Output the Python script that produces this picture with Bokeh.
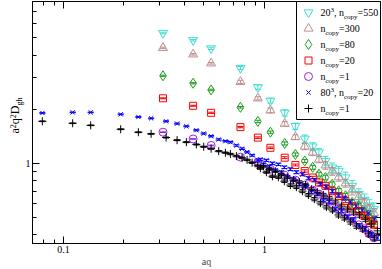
import math
from bokeh.plotting import figure
from bokeh.models import (ColumnDataSource, Range1d, LogAxis, FixedTicker, Whisker, TeeHead,
                          CustomJSTickFormatter)
from bokeh.core.properties import value
from bokeh.embed import file_html
from bokeh.resources import INLINE

# ---------------- data ----------------
# 20^3 lattice momenta
aq_20 = [0.313, 0.442, 0.543, 0.760, 0.928, 1.071, 1.262, 1.426, 1.587, 1.739,
         1.868, 2.012, 2.173, 2.343, 2.530, 2.731, 2.946, 3.145, 3.329, 3.506]
d_20_n550 = [5.31, 4.84, 4.36, 3.39, 2.65, 2.23, 1.91, 1.61, 1.37, 1.24,
             1.15, 1.03, 0.947, 0.907, 0.834, 0.749, 0.674, 0.625, 0.581, 0.557]
d_20_n300 = [4.39, 4.04, 3.60, 2.84, 2.30, 1.97, 1.66, 1.40, 1.24, 1.15,
             1.05, 0.975, 0.903, 0.837, 0.775, 0.709, 0.649, 0.601, 0.557, 0.529]
d_20_n80 = [3.07, 2.79, 2.56, 2.05, 1.71, 1.49, 1.29, 1.12, 1.03, 0.950,
            0.870, 0.834, 0.765, 0.703, 0.660, 0.607, 0.581, 0.536, 0.503, 0.478]
d_20_n20 = [2.30, 2.09, 1.91, 1.59, 1.39, 1.22, 1.075, 0.979, 0.907, 0.834,
            0.782, 0.749, 0.700, 0.657, 0.617, 0.578, 0.543, 0.510, 0.478, 0.455]
d_20_n1 = [1.49, 1.366, 1.257, 1.083, 1.013, 0.927, 0.858, 0.806, 0.756, 0.709,
           0.674, 0.633, 0.594, 0.557, 0.523, 0.491, 0.455, 0.432, 0.405, 0.385]
e_20_n550 = [0.01, 0.01, 0.015, 0.02, 0.03, 0.03, 0.04, 0.04, 0.05, 0.05,
             0.05, 0.06, 0.06, 0.06, 0.07, 0.07, 0.07, 0.08, 0.08, 0.08]
e_20_n300 = [0.01, 0.01, 0.01, 0.02, 0.02, 0.03, 0.03, 0.03, 0.04, 0.04,
             0.04, 0.05, 0.05, 0.05, 0.05, 0.06, 0.06, 0.06, 0.06, 0.06]
e_20_n80 = [0.008, 0.008, 0.01, 0.01, 0.015, 0.015, 0.02, 0.02, 0.02, 0.025,
            0.025, 0.03, 0.03, 0.03, 0.03, 0.035, 0.035, 0.035, 0.04, 0.04]
e_20_n20 = [0.006, 0.006, 0.008, 0.008, 0.01, 0.01, 0.012, 0.012, 0.015, 0.015,
            0.015, 0.02, 0.02, 0.02, 0.02, 0.025, 0.025, 0.025, 0.03, 0.03]
e_20_n1 = [0.004, 0.004, 0.005, 0.005, 0.006, 0.006, 0.008, 0.008, 0.01, 0.01,
           0.01, 0.012, 0.012, 0.012, 0.015, 0.015, 0.015, 0.02, 0.02, 0.02]

# 80^3 lattice momenta
aq_80 = [0.0786, 0.1112, 0.1367, 0.1928, 0.2361, 0.2731, 0.3243, 0.3678, 0.4091, 0.4587,
         0.4989, 0.5430, 0.5925, 0.6397, 0.6774, 0.7255, 0.7745, 0.8201, 0.8686, 0.9261,
         0.955, 0.989, 1.023, 1.059, 1.096, 1.134, 1.174, 1.215, 1.257, 1.301,
         1.347, 1.394, 1.443, 1.493, 1.546, 1.600, 1.656, 1.714, 1.773, 1.835,
         1.900, 1.966, 2.035, 2.106, 2.180, 2.256, 2.335, 2.416, 2.500, 2.588,
         2.679, 2.772, 2.869, 2.969, 3.073, 3.180, 3.291, 3.406, 3.526, 3.650]
d_80_n20 = [1.906, 1.920, 1.920, 1.873, 1.811, 1.779, 1.713, 1.663, 1.607, 1.528,
            1.465, 1.415, 1.357, 1.328, 1.311, 1.257, 1.206, 1.155, 1.107, 1.043,
            1.052, 0.987, 1.039, 0.963, 1.000, 0.915, 0.987, 0.892, 0.950, 0.837,
            0.927, 0.816, 0.892, 0.765, 0.869, 0.746, 0.826, 0.691, 0.806, 0.674,
            0.765, 0.624, 0.737, 0.609, 0.700, 0.557, 0.666, 0.543, 0.640, 0.503,
            0.609, 0.484, 0.578, 0.448, 0.550, 0.432, 0.529, 0.400, 0.490, 0.385]
d_80_n1 = [1.713, 1.670, 1.627, 1.547, 1.489, 1.459, 1.392, 1.345, 1.311, 1.273,
           1.237, 1.206, 1.169, 1.146, 1.126, 1.097, 1.072, 1.045, 1.009, 0.969,
           0.938, 0.963, 0.892, 0.927, 0.847, 0.903, 0.837, 0.869, 0.795, 0.837,
           0.756, 0.806, 0.737, 0.785, 0.700, 0.756, 0.666, 0.718, 0.632, 0.691,
           0.601, 0.666, 0.571, 0.640, 0.550, 0.609, 0.516, 0.578, 0.497, 0.557,
           0.472, 0.536, 0.448, 0.516, 0.432, 0.490, 0.405, 0.460, 0.385, 0.421]
e_80 = [0.004, 0.004, 0.004, 0.005, 0.005, 0.005, 0.006, 0.006, 0.006, 0.007,
        0.007, 0.008, 0.008, 0.008, 0.009, 0.009, 0.01, 0.01, 0.01, 0.012,
        0.012, 0.012, 0.013, 0.013, 0.014, 0.014, 0.015, 0.015, 0.016, 0.016,
        0.017, 0.017, 0.018, 0.018, 0.019, 0.019, 0.02, 0.02, 0.021, 0.021,
        0.022, 0.022, 0.023, 0.023, 0.024, 0.024, 0.025, 0.025, 0.026, 0.026,
        0.027, 0.027, 0.028, 0.028, 0.029, 0.029, 0.03, 0.03, 0.031, 0.031]

x_major = [0.1, 1]
x_minor = [0.08, 0.09, 0.2, 0.3, 0.4, 0.5, 0.6, 0.7, 0.8, 0.9, 2, 3]
y_major = [1]
y_minor = [0.4, 0.5, 0.6, 0.7, 0.8, 0.9, 2, 3, 4, 5, 6, 7]

# ---------------- figure ----------------
FONT = "Liberation Serif"
X0, X1 = 0.0702, 3.78
Y0, Y1 = 0.358, 7.95
FW, FH = 348, 242
LEFT = 32
p = figure(x_axis_type="log", y_axis_type="log",
           x_range=Range1d(X0, X1), y_range=Range1d(Y0, Y1),
           frame_width=FW, frame_height=FH, output_backend="svg", toolbar_location=None,
           min_border_left=LEFT, min_border_right=2, min_border_top=1, min_border_bottom=0)
p.xgrid.visible = False
p.ygrid.visible = False
p.outline_line_color = "black"
p.background_fill_color = "white"
p.border_fill_color = "white"

fmt = CustomJSTickFormatter(code="return String(tick);")
nofmt = CustomJSTickFormatter(code="return '';")


def style_axis(ax, ticker, labels=True):
    ax.ticker = ticker
    ax.major_tick_in = 7
    ax.major_tick_out = 0
    ax.minor_tick_in = 4
    ax.minor_tick_out = 0
    ax.axis_line_color = "black"
    ax.major_tick_line_color = "black"
    ax.minor_tick_line_color = "black"
    ax.major_label_text_font = FONT
    ax.major_label_text_color = "black"
    ax.major_label_text_font_size = "10px"
    ax.major_label_standoff = 2 if labels else 0
    ax.formatter = fmt if labels else nofmt


style_axis(p.xaxis[0], FixedTicker(ticks=x_major, minor_ticks=x_minor))
style_axis(p.yaxis[0], FixedTicker(ticks=y_major, minor_ticks=y_minor))
p.xaxis[0].axis_label = "aq"
p.xaxis[0].axis_label_text_font = FONT
p.xaxis[0].axis_label_text_font_size = "10px"
p.xaxis[0].axis_label_text_font_style = "normal"
p.xaxis[0].axis_label_standoff = 0

top_ax = LogAxis()
right_ax = LogAxis()
p.add_layout(top_ax, "above")
p.add_layout(right_ax, "right")
style_axis(top_ax, FixedTicker(ticks=x_major, minor_ticks=x_minor), labels=False)
style_axis(right_ax, FixedTicker(ticks=y_major, minor_ticks=y_minor), labels=False)


def series(xs, ys, errs, color, marker, size):
    up = [y * (1 + e) for y, e in zip(ys, errs)]
    lo = [y * (1 - e) for y, e in zip(ys, errs)]
    src = ColumnDataSource(dict(x=xs, y=ys, upper=up, lower=lo))
    w = Whisker(source=src, base="x", upper="upper", lower="lower", dimension="height",
                line_color=color, line_width=1,
                upper_head=TeeHead(size=6, line_color=color, line_width=1),
                lower_head=TeeHead(size=6, line_color=color, line_width=1))
    p.add_layout(w)
    p.scatter("x", "y", source=src, marker=marker, size=size,
              line_color=color, fill_color=None, line_width=1)


C_CYAN = "#40e0d0"
C_PINK = "#bc8f8f"
C_GREEN = "#1e9e1e"
C_RED = "#ff0000"
C_PURPLE = "#9b20e0"
C_BLUE = "#0000ff"
C_BLACK = "#000000"

styles = [(C_CYAN, "inverted_triangle", 9), (C_PINK, "triangle", 9), (C_GREEN, "diamond", 10),
          (C_RED, "square", 7), (C_PURPLE, "circle", 8), (C_BLUE, "x", 6), (C_BLACK, "cross", 8)]
series(aq_20, d_20_n550, e_20_n550, *styles[0])
series(aq_20, d_20_n300, e_20_n300, *styles[1])
series(aq_20, d_20_n80, e_20_n80, *styles[2])
series(aq_20, d_20_n20, e_20_n20, *styles[3])
series(aq_20, d_20_n1, e_20_n1, *styles[4])
series(aq_80, d_80_n20, e_80, *styles[5])
series(aq_80, d_80_n1, e_80, *styles[6])

# ---------------- hand-made legend (box, keys, texts) ----------------
W = {'0': 0.5, '1': 0.5, '2': 0.5, '3': 0.5, '4': 0.5, '5': 0.5, '6': 0.5, '7': 0.5, '8': 0.5,
     '9': 0.5, ',': 0.25, ' ': 0.25, 'n': 0.5, '=': 0.564, 'c': 0.444, 'o': 0.5, 'p': 0.5,
     'y': 0.5, 'a': 0.444, 'q': 0.5, 'D': 0.722, 'g': 0.5, 'h': 0.5}
MID = 0.3375  # distance from baseline to the middle of the text box, in em


def tw(s, size):
    return sum(W.get(c, 0.5) for c in s) * size


LX0, LX1 = math.log10(X0), math.log10(X1)
LY0, LY1 = math.log10(Y0), math.log10(Y1)


def sx_to_data(sx):
    return 10 ** (LX0 + sx / FW * (LX1 - LX0))


def sy_to_data(sy):
    return 10 ** (LY0 + sy / FH * (LY1 - LY0))


BOX_W, BOX_H = 84, 118
ROW0, ROW_STEP = 11, 16
KEY_DX, TEXT_DX = 12, 24

p.quad(left=[sx_to_data(FW - BOX_W)], right=[sx_to_data(FW)],
       bottom=[sy_to_data(FH - BOX_H)], top=[sy_to_data(FH)],
       fill_color="white", line_color="black", line_width=1, level="overlay")

keys = dict(x=[], y=[], marker=[], color=[], size=[])
for i, (c, m, s) in enumerate(styles):
    keys["x"].append(sx_to_data(FW - BOX_W + KEY_DX))
    keys["y"].append(sy_to_data(FH - (ROW0 + i * ROW_STEP)))
    keys["marker"].append(m)
    keys["color"].append(c)
    keys["size"].append(s)
p.scatter(x="x", y="y", marker="marker", size="size", line_color="color", fill_color=None,
          line_width=1, source=ColumnDataSource(keys), level="overlay")

M, S = 10, 7
SUB, SUP = -3, 4
legend_texts = [
    [("20", M, 0), ("3", S, SUP), (", n", M, 0), ("copy", S, SUB), ("=550", M, 0)],
    [("n", M, 0), ("copy", S, SUB), ("=300", M, 0)],
    [("n", M, 0), ("copy", S, SUB), ("=80", M, 0)],
    [("n", M, 0), ("copy", S, SUB), ("=20", M, 0)],
    [("n", M, 0), ("copy", S, SUB), ("=1", M, 0)],
    [("80", M, 0), ("3", S, SUP), (", n", M, 0), ("copy", S, SUB), ("=20", M, 0)],
    [("n", M, 0), ("copy", S, SUB), ("=1", M, 0)],
]
tx = FW - BOX_W + TEXT_DX
lt = dict(x=[], y=[], text=[], size=[])
for i, parts in enumerate(legend_texts):
    yb = FH - (ROW0 + i * ROW_STEP) - 3.5   # baseline of the main text
    pos = 0.0
    for txt, size, shift in parts:
        lt["x"].append(sx_to_data(tx + pos))
        lt["y"].append(sy_to_data(yb + shift + MID * size))
        lt["text"].append(txt)
        lt["size"].append(f"{size}px")
        pos += tw(txt, size)
p.text(x="x", y="y", text="text", source=ColumnDataSource(lt),
       text_font=value(FONT), text_font_size="size", text_color="black",
       text_align="left", text_baseline="middle", level="overlay")

# y axis label a^2 q^2 D_gh (rotated), left of the frame
ylab = [("a", 12, 0), ("2", 8, 4), ("q", 12, 0), ("2", 8, 4), ("D", 12, 0), ("gh", 8, -3)]
y_start = FH / 2 - 11      # from the frame bottom
base_x = -13               # baseline, relative to the frame's left edge

yl = dict(x=[], y=[], text=[], size=[])
pos = 0.0
for txt, size, shift in ylab:
    yl["x"].append(sx_to_data(base_x - shift - MID * size))
    yl["y"].append(sy_to_data(y_start + pos))
    yl["text"].append(txt)
    yl["size"].append(f"{size}px")
    pos += tw(txt, size)
p.text(x="x", y="y", text="text", source=ColumnDataSource(yl), angle=math.pi / 2,
       text_font=value(FONT), text_font_size="size", text_color="black",
       text_align="left", text_baseline="middle", level="overlay")

open("out.html", "w").write(file_html(p, INLINE))
